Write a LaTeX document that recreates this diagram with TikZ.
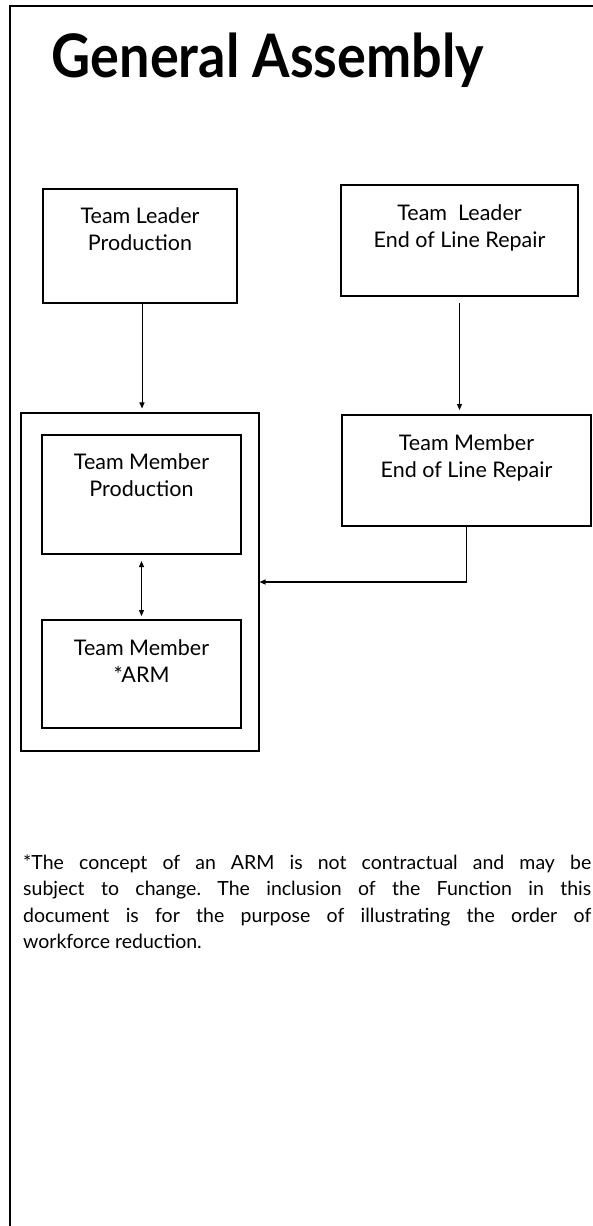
\documentclass[tikz,border=0pt]{standalone}
\usepackage{fontspec}
\setmainfont{Lato}
\usetikzlibrary{arrows.meta}

\begin{document}
\begin{tikzpicture}[x=1pt,y=-1pt,
  frame/.style={line width=2.3pt, line cap=rect},
  unitbox/.style={draw, line width=2pt, inner sep=0pt},
  groupbox/.style={draw, line width=1.1pt, inner sep=0pt},
  boxtext/.style={anchor=base, inner sep=0pt, font=\fontsize{21.5}{27}\selectfont},
  link/.style={line width=1pt, -{Triangle[length=6pt,width=5pt]}},
  twoway/.style={line width=1pt, {Triangle[length=6pt,width=5pt]}-{Triangle[length=6pt,width=5pt]}}
]
\useasboundingbox (0,0) rectangle (592,1226);

% page frame: top and left rules
\draw[frame] (10,1226) -- (10,6) -- (592,6);

% heading
\node[anchor=base, inner sep=0pt, font=\fontsize{60}{60}\selectfont\bfseries] (title) at (268,77) {\scalebox{0.9}[1]{General Assembly}};

% leaders
\node[unitbox, minimum width=194pt, minimum height=114pt] (tlp) at (140,246) {};
\node[boxtext] (tlpt) at (140,223) {\begin{tabular}[t]{@{}c@{}}Team Leader\\Production\end{tabular}};

\node[unitbox, minimum width=237pt, minimum height=111pt] (tle) at (459.5,240.5) {};
\node[boxtext] (tlet) at (459.5,220) {\begin{tabular}[t]{@{}c@{}}Team\ \ Leader\\End of Line Repair\end{tabular}};

% repair member
\node[unitbox, minimum width=249pt, minimum height=111pt] (tme) at (466.5,470.5) {};
\node[boxtext] (tmet) at (466.5,450) {\begin{tabular}[t]{@{}c@{}}Team Member\\End of Line Repair\end{tabular}};

% production group
\node[groupbox, minimum width=238pt, minimum height=338pt] (grp) at (140,582) {};
\node[unitbox, minimum width=199pt, minimum height=119pt] (tmp) at (141.5,494.5) {};
\node[boxtext] (tmpt) at (141.5,469) {\begin{tabular}[t]{@{}c@{}}Team Member\\Production\end{tabular}};
\node[unitbox, minimum width=199pt, minimum height=108pt] (tma) at (141.5,674) {};
\node[boxtext] (tmat) at (141.5,655) {\begin{tabular}[t]{@{}c@{}}Team Member\\{*}ARM\end{tabular}};

% connectors
\draw[link, shorten >=4pt] ([xshift=2pt]tlp.south) -- ([xshift=2pt]grp.north);
\draw[link, shorten <=6pt, shorten >=4pt] (tle.south) -- (tle.south |- tme.north);
\draw[twoway, shorten <=6pt, shorten >=3pt] (tmp.south) -- (tma.north);
\draw[link, line width=1.2pt] (tme.south) |- (grp.east);

% footnote
\node[anchor=base west, inner sep=0pt] (note) at (23,869) {\parbox[t]{568pt}{\frenchspacing\fontsize{19.5}{26.5}\selectfont
*The concept of an ARM is not contractual and may be\linebreak
subject to change. The inclusion of the Function in this\linebreak
document is for the purpose of illustrating the order of\linebreak
workforce reduction.}};
\end{tikzpicture}
\end{document}
